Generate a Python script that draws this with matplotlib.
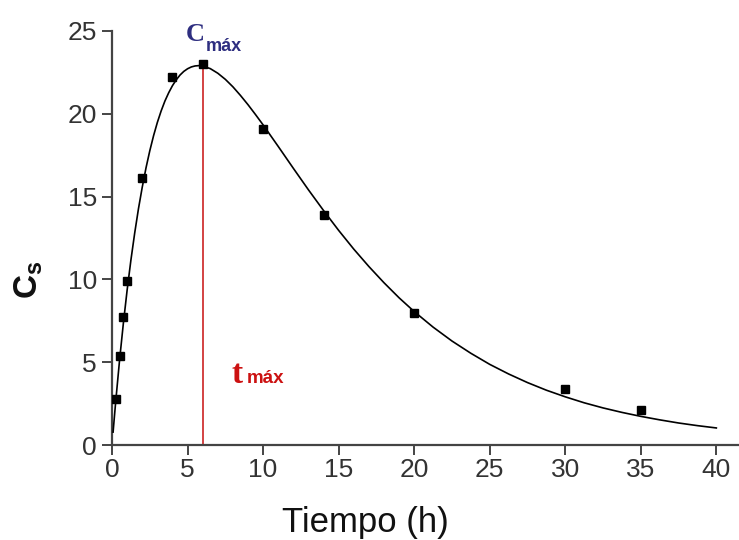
#!/usr/bin/env python

import numpy as np
from matplotlib import pyplot as plt

# measured concentrations
t_obs = [0.25, 0.5, 0.75, 1, 2, 4, 6, 10, 14, 20, 30, 35]
c_obs = [2.8, 5.4, 7.7, 9.9, 16.1, 22.2, 23.0, 19.1, 13.9, 8.0, 3.4, 2.1]

# fitted curve
t_fit = [0.07, 0.15, 0.25, 0.5, 0.75, 1, 1.25, 1.5, 1.75, 2, 2.25, 2.5,
         2.75, 3, 3.25, 3.5, 3.75, 4, 4.25, 4.5, 4.75, 5, 5.25, 5.5, 5.75,
         6, 6.5, 7, 7.5, 8, 8.5, 9, 9.5, 10, 11, 12, 13, 14, 15, 16, 17,
         18, 19, 20, 21.25, 22.5, 23.75, 25, 26.25, 27.5, 28.75, 30, 31.25,
         32.5, 33.75, 35, 36.25, 37.5, 38.75, 40]
c_fit = [0.78, 1.64, 2.69, 5.14, 7.35, 9.36, 11.17, 12.80, 14.27, 15.57,
         16.74, 17.77, 18.68, 19.48, 20.17, 20.77, 21.27, 21.70, 22.05,
         22.34, 22.56, 22.72, 22.83, 22.89, 22.91, 22.88, 22.73, 22.45,
         22.08, 21.63, 21.11, 20.55, 19.95, 19.33, 18.03, 16.71, 15.41,
         14.16, 12.96, 11.83, 10.78, 9.80, 8.89, 8.06, 7.12, 6.28, 5.54,
         4.87, 4.29, 3.77, 3.31, 2.91, 2.55, 2.24, 1.97, 1.73, 1.52, 1.33,
         1.17, 1.03]

t_max = 6
c_max = 23.0

x_ticks = [0, 5, 10, 15, 20, 25, 30, 35, 40]
y_ticks = [0, 5, 10, 15, 20, 25]

plt.rcParams['font.family'] = ['Liberation Sans', 'DejaVu Sans']

fig = plt.figure(figsize=(7.39, 5.40), dpi=100)
ax = fig.add_axes([0.1516, 0.1759, 0.8484, 0.7667])

ax.plot(t_fit, c_fit, color='black', lw=1.2, zorder=3)
ax.plot(t_obs, c_obs, 's', color='black', ms=6, zorder=4)
ax.vlines(t_max, 0, c_max, color='#cc2222', lw=1.2, zorder=2)

ax.set_xlim(0, 41.5)
ax.set_ylim(0, 25)
ax.set_xticks(x_ticks)
ax.set_yticks(y_ticks)

for s in ['top', 'right']:
    ax.spines[s].set_visible(False)
for s in ['left', 'bottom']:
    ax.spines[s].set_color('#444444')
    ax.spines[s].set_linewidth(1.6)

ax.tick_params(length=7, width=1.4, color='#444444', labelcolor='#333333',
               labelsize=19, pad=4)
ax.tick_params(axis='x', pad=2)

ax.set_xlabel("Tiempo (h)", fontsize=25, color='#111111')
ax.xaxis.set_label_coords(0.4035, -0.148)
ax.set_ylabel("C$_\\mathregular{s}$", fontsize=24, color='#111111',
              fontweight='bold')
ax.yaxis.set_label_coords(-0.107, 0.3986)

# C max label
ax.text(4.9, 24.4, "C", color='#2e2e80', fontsize=19, fontweight='bold',
        family='Liberation Serif', clip_on=False)
ax.text(6.2, 23.8, "máx", color='#2e2e80', fontsize=13, fontweight='bold',
        clip_on=False)

# t max label
ax.text(7.9, 3.75, "t", color='#cc1111', fontsize=24, fontweight='bold',
        family='Liberation Serif')
ax.text(8.95, 3.75, "máx", color='#cc1111', fontsize=13.5, fontweight='bold')

fig.savefig("out.png", dpi=100)
